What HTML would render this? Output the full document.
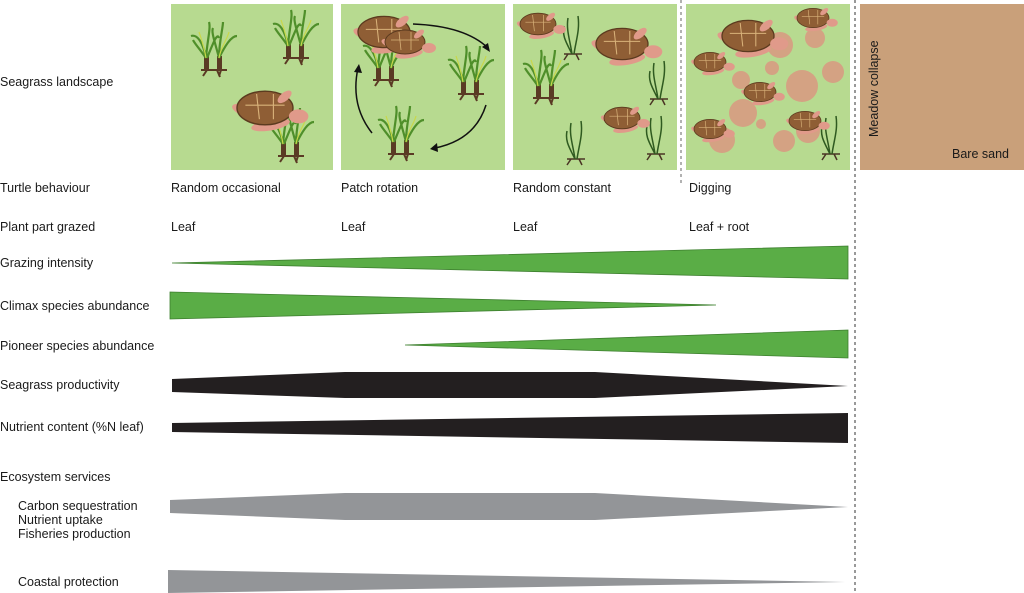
<!DOCTYPE html>
<html><head><meta charset="utf-8"><style>
body{margin:0;background:#fff}
svg{display:block}
text{font-family:"Liberation Sans",Arial,sans-serif;font-size:12.5px;fill:#1a1a1a}
</style></head><body>
<svg width="1024" height="593" viewBox="0 0 1024 593" xmlns="http://www.w3.org/2000/svg">
<defs>
<g id="clump">
<path d="M-12,28 L14,28 M-6,28 l-4,6 M4,28 l3,7 M8,28 l-2,6" stroke="#5a3a24" stroke-width="2" fill="none"/>
<rect x="-9" y="14" width="5" height="14" fill="#5a3a24"/><rect x="4" y="14" width="5" height="14" fill="#5a3a24"/>
<path d="M-7,16 C-10,0 -16,-8 -22,-6 M-7,16 C-6,0 -2,-14 -4,-20 M-6,16 C0,2 4,-10 6,-4 M6,16 C6,0 10,-14 10,-20 M6,16 C12,4 18,-6 24,-6 M6,16 C2,0 -2,-10 0,-14 M-7,16 C-14,6 -18,2 -20,-2" stroke="#4f8f2a" stroke-width="2.2" fill="none"/>
<path d="M-7,16 C-9,4 -12,-4 -14,-10 M6,16 C8,4 14,-2 16,-10" stroke="#c9d84a" stroke-width="1.2" fill="none"/>
</g>
<g id="sprig">
<path d="M-8,24 L10,24 M-4,24 l-4,6 M4,24 l3,6" stroke="#4a3424" stroke-width="1.5" fill="none"/>
<path d="M0,24 C-2,10 -6,0 -4,-12 M2,24 C4,10 8,0 6,-14 M0,24 C-6,12 -10,6 -8,-4" stroke="#2f5a20" stroke-width="1.5" fill="none"/>
</g>
<g id="turtle">
<ellipse cx="-14" cy="2" rx="10" ry="4" fill="#e09a8a" transform="rotate(20 -14 2)"/>
<ellipse cx="4" cy="12" rx="14" ry="4" fill="#e09a8a" transform="rotate(-10 4 12)"/>
<ellipse cx="0" cy="0" rx="20" ry="12" fill="#8f5e35" stroke="#5b3a1f" stroke-width="1"/>
<path d="M-14,-2 L14,-2 M-6,-10 L-4,8 M6,-10 L6,8" stroke="#d9b27a" stroke-width="0.8" fill="none"/>
<ellipse cx="24" cy="6" rx="7" ry="5" fill="#e09a8a"/>
<ellipse cx="14" cy="-8" rx="6" ry="3" fill="#e09a8a" transform="rotate(-40 14 -8)"/>
</g>
</defs>

<!-- panels -->
<rect x="171" y="4" width="162" height="166" fill="#b7da90"/>
<rect x="341" y="4" width="164" height="166" fill="#b7da90"/>
<rect x="513" y="4" width="164" height="166" fill="#b7da90"/>
<rect x="686" y="4" width="164" height="166" fill="#b7da90"/>
<rect x="860" y="4" width="164" height="166" fill="#c9a07a"/>

<!-- panel 1 -->
<use href="#clump" x="213" y="42"/><use href="#clump" x="295" y="30"/><use href="#clump" x="290" y="128"/>
<use href="#turtle" transform="translate(265 108) scale(1.4)"/>
<!-- panel 2 -->
<use href="#clump" x="385" y="52"/><use href="#clump" x="470" y="66"/><use href="#clump" x="400" y="126"/>
<use href="#turtle" transform="translate(384 32) scale(1.3)"/><use href="#turtle" transform="translate(405 42) scale(1.0)"/>
<path d="M413,24 Q465,26 488,48" stroke="#111" stroke-width="1.5" fill="none"/><path d="M482,47 L490,52 L488,43 Z" fill="#111"/>
<path d="M486,105 Q475,140 435,148" stroke="#111" stroke-width="1.5" fill="none"/><path d="M437,143 L430,149 L438,152 Z" fill="#111"/>
<path d="M372,133 Q350,105 358,68" stroke="#111" stroke-width="1.5" fill="none"/><path d="M354,72 L359,64 L362,73 Z" fill="#111"/>
<!-- panel 3 -->
<use href="#clump" x="545" y="70"/><use href="#sprig" x="572" y="30"/><use href="#sprig" x="658" y="75"/>
<use href="#sprig" x="575" y="135"/><use href="#sprig" x="655" y="130"/>
<use href="#turtle" transform="translate(538 24) scale(0.9)"/><use href="#turtle" transform="translate(622 44) scale(1.3)"/>
<use href="#turtle" transform="translate(622 118) scale(0.9)"/>
<!-- panel 4 -->
<g fill="#d4a283">
<circle cx="780" cy="45" r="13"/><circle cx="815" cy="38" r="10"/><circle cx="802" cy="86" r="16"/><circle cx="833" cy="72" r="11"/>
<circle cx="772" cy="68" r="7"/><circle cx="741" cy="80" r="9"/><circle cx="743" cy="113" r="14"/><circle cx="761" cy="124" r="5"/>
<circle cx="784" cy="141" r="11"/><circle cx="808" cy="131" r="12"/><circle cx="722" cy="140" r="13"/>
</g>
<use href="#sprig" x="830" y="130"/>
<use href="#turtle" transform="translate(748 36) scale(1.3)"/><use href="#turtle" transform="translate(813 18) scale(0.8)"/>
<use href="#turtle" transform="translate(710 62) scale(0.8)"/><use href="#turtle" transform="translate(760 92) scale(0.8)"/>
<use href="#turtle" transform="translate(710 129) scale(0.8)"/><use href="#turtle" transform="translate(805 121) scale(0.8)"/>

<!-- dashed lines -->
<line x1="681" y1="0" x2="681" y2="185" stroke="#666" stroke-dasharray="3,3"/>
<line x1="855" y1="0" x2="855" y2="593" stroke="#333" stroke-dasharray="3,3"/>

<text x="878" y="137" transform="rotate(-90 878 137)">Meadow collapse</text>
<text x="952" y="158">Bare sand</text>

<!-- labels -->
<text x="0" y="86">Seagrass landscape</text>
<text x="0" y="192">Turtle behaviour</text>
<text x="0" y="231">Plant part grazed</text>
<text x="0" y="267">Grazing intensity</text>
<text x="0" y="310">Climax species abundance</text>
<text x="0" y="350">Pioneer species abundance</text>
<text x="0" y="389">Seagrass productivity</text>
<text x="0" y="431">Nutrient content (%N leaf)</text>
<text x="0" y="481">Ecosystem services</text>
<text x="18" y="510">Carbon sequestration</text>
<text x="18" y="524">Nutrient uptake</text>
<text x="18" y="538">Fisheries production</text>
<text x="18" y="586">Coastal protection</text>

<text x="171" y="192">Random occasional</text>
<text x="341" y="192">Patch rotation</text>
<text x="513" y="192">Random constant</text>
<text x="689" y="192">Digging</text>
<text x="171" y="231">Leaf</text>
<text x="341" y="231">Leaf</text>
<text x="513" y="231">Leaf</text>
<text x="689" y="231">Leaf + root</text>

<!-- wedges -->
<g fill="#5aad46" stroke="#3d7f2e" stroke-width="0.8">
<polygon points="172,263 848,246 848,279"/>
<polygon points="170,292 716,305 170,319"/>
<polygon points="405,345 848,330 848,358"/>
</g>
<polygon points="172,379 345,372 595,372 848,386 595,398 345,398 172,392" fill="#231f20"/>
<polygon points="172,423 848,413 848,443 172,432" fill="#231f20"/>
<polygon points="170,500 345,493 595,493 848,507 595,520 345,520 170,513" fill="#939598"/>
<polygon points="168,570 845,582 168,593" fill="#939598"/>
</svg>
</body></html>
